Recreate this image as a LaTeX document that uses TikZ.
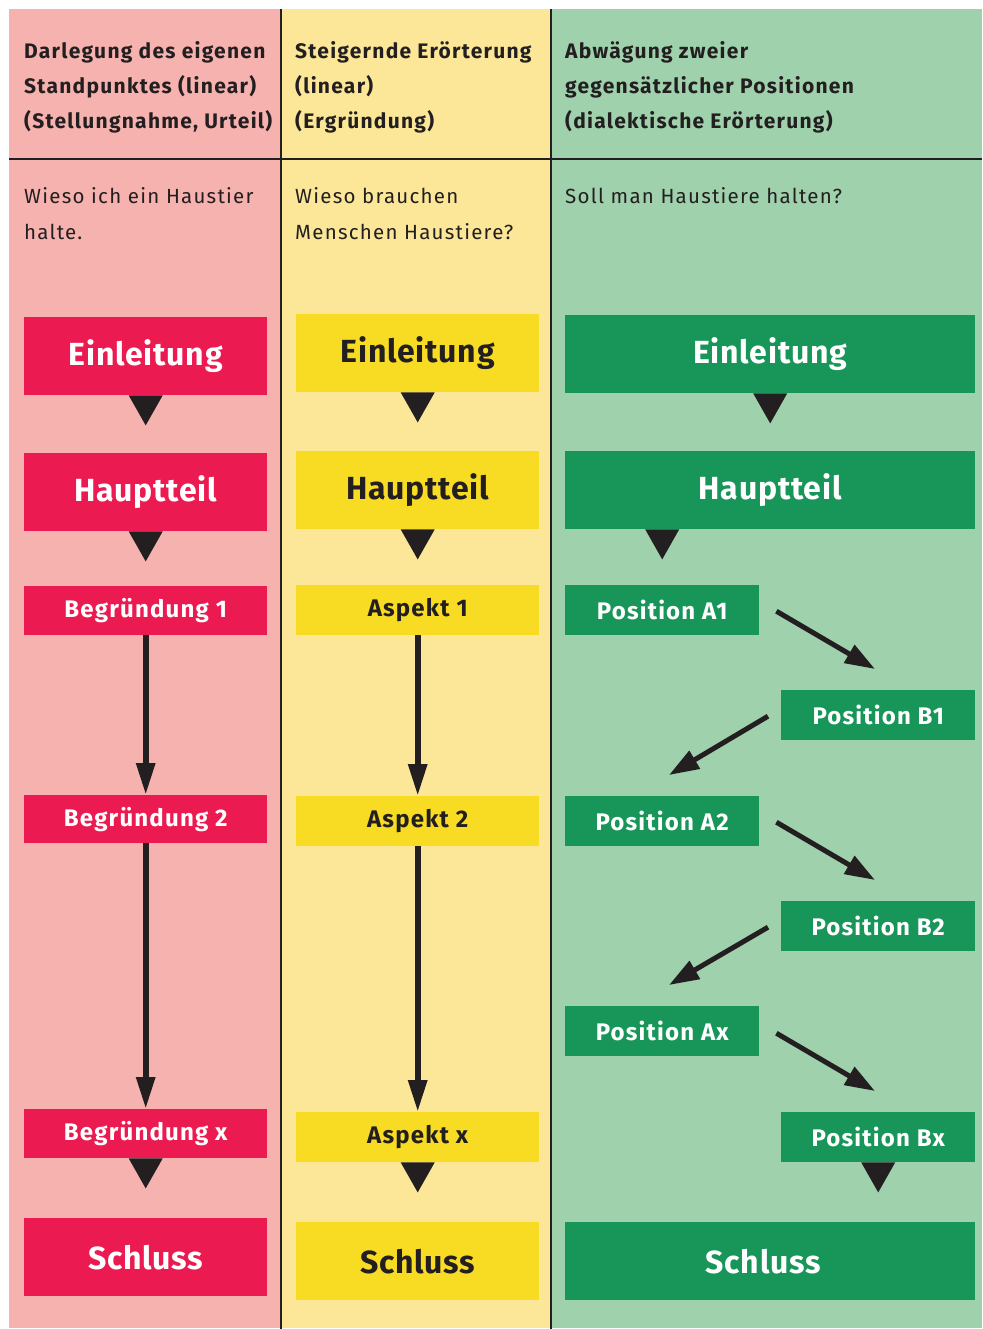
\documentclass[tikz,border=0pt]{standalone}
\usepackage{fontspec}
\setmainfont{Fira Sans}
\usetikzlibrary{arrows.meta,calc}
\definecolor{pinkbg}{HTML}{F6B2AE}
\definecolor{crim}{HTML}{EB1A50}
\definecolor{yellowbg}{HTML}{FBE797}
\definecolor{yellowbox}{HTML}{F8DC24}
\definecolor{greenbg}{HTML}{9ED1AC}
\definecolor{greenbox}{HTML}{18965A}
\definecolor{ink}{HTML}{231F20}
\tikzset{
  head/.style={anchor=north west, inner sep=0pt, align=left, text=ink,
    font=\fontsize{21}{35.3}\selectfont\bfseries\addfontfeatures{LetterSpace=6}},
  quest/.style={anchor=north west, inner sep=0pt, align=left, text=ink,
    font=\fontsize{20.5}{36}\selectfont\addfontfeatures{LetterSpace=6}},
  bigbox/.style={anchor=north west, inner sep=0pt, minimum height=78pt,
    font=\fontsize{32}{32}\selectfont\bfseries\addfontfeatures{LetterSpace=2.5}},
  smallbox/.style={anchor=north west, inner sep=0pt, minimum height=50pt,
    font=\fontsize{24}{24}\selectfont\bfseries\addfontfeatures{LetterSpace=5}},
  cA/.style={fill=crim, text=white},
  cB/.style={fill=yellowbox, text=ink},
  cC/.style={fill=greenbox, text=white},
  vline/.style={ink, line width=6pt, -{Triangle[length=32pt,width=18pt]}},
  dline/.style={ink, line width=5pt, -{Triangle[length=30pt,width=20pt]}},
  divider/.style={ink, line width=2pt},
}
\begin{document}
\begin{tikzpicture}[x=1pt,y=-1pt]
\useasboundingbox (0,0) rectangle (982,1329);
% column backgrounds
\fill[pinkbg] (9,9) rectangle (281,1328);
\fill[yellowbg] (281,9) rectangle (551,1328);
\fill[greenbg] (551,9) rectangle (982,1328);
\draw[divider, line width=2.5pt] (281,9) -- (281,1329);
\draw[divider] (551,9) -- (551,1329);
\draw[divider] (9,159) -- (982,159);

% headers
\node[head] (t1) at (24,41) {Darlegung des eigenen\\Standpunktes (linear)\\(Stellungnahme, Urteil)};
\node[head] (t2) at (295,41) {Steigernde Erörterung\\(linear)\\(Ergründung)};
\node[head] (t3) at (565,41) {Abwägung zweier\\gegensätzlicher Positionen\\(dialektische Erörterung)};

% questions
\node[quest] (q1) at (24,187) {Wieso ich ein Haustier\\halte.};
\node[quest] (q2) at (295,187) {Wieso brauchen\\Menschen Haustiere?};
\node[quest] (q3) at (565,187) {Soll man Haustiere halten?};

% column 1
\node[bigbox, cA, minimum width=243pt] (e1) at (24,317) {Einleitung};
\node[bigbox, cA, minimum width=243pt] (h1) at (24,453) {Hauptteil};
\node[smallbox, cA, minimum width=243pt, minimum height=49pt] (b1) at (24,586) {Begründung 1};
\node[smallbox, cA, minimum width=243pt, minimum height=48pt] (b2) at (24,795) {Begründung 2};
\node[smallbox, cA, minimum width=243pt, minimum height=49pt] (bx) at (24,1109) {Begründung x};
\node[bigbox, cA, minimum width=243pt] (s1) at (24,1218) {Schluss};

% column 2
\node[bigbox, cB, minimum width=243pt] (e2) at (296,314) {Einleitung};
\node[bigbox, cB, minimum width=243pt] (h2) at (296,451) {Hauptteil};
\node[smallbox, cB, minimum width=243pt] (a1) at (296,585) {Aspekt 1};
\node[smallbox, cB, minimum width=243pt] (a2) at (296,796) {Aspekt 2};
\node[smallbox, cB, minimum width=243pt] (ax) at (296,1112) {Aspekt x};
\node[bigbox, cB, minimum width=243pt] (s2) at (296,1222) {Schluss};

% column 3
\node[bigbox, cC, minimum width=410pt] (e3) at (565,315) {Einleitung};
\node[bigbox, cC, minimum width=410pt] (h3) at (565,451) {Hauptteil};
\node[smallbox, cC, minimum width=194pt] (pa1) at (565,585) {Position A1};
\node[smallbox, cC, minimum width=194pt] (pb1) at (781,690) {Position B1};
\node[smallbox, cC, minimum width=194pt] (pa2) at (565,796) {Position A2};
\node[smallbox, cC, minimum width=194pt] (pb2) at (781,901) {Position B2};
\node[smallbox, cC, minimum width=194pt] (pax) at (565,1006) {Position Ax};
\node[smallbox, cC, minimum width=194pt] (pbx) at (781,1112) {Position Bx};
\node[bigbox, cC, minimum width=410pt] (s3) at (565,1222) {\hspace*{-14pt}Schluss};

% triangular connectors
\foreach \n in {e1,h1,bx,e2,h2,ax,e3,pbx}{
  \fill[ink] ($(\n.south)+(-17,0)$) -- ($(\n.south)+(17,0)$) -- ($(\n.south)+(0,30)$) -- cycle;
}
\coordinate (h3t) at (h3.south -| pa1.south);
\fill[ink] ($(h3t)+(-17,0)$) -- ($(h3t)+(17,0)$) -- ($(h3t)+(0,30)$) -- cycle;

% vertical arrows
\draw[vline] (b1.south) -- (b2.north);
\draw[vline] (b2.south) -- (bx.north);
\draw[vline] (a1.south) -- (a2.north);
\draw[vline] (a2.south) -- (ax.north);

% diagonal arrows
\draw[dline] ($(pa1.east)+(17,1)$) -- ($(pb1.north west)+(94,-21)$);
\draw[dline] ($(pb1.west)+(-13,1)$) -- ($(pa2.north west)+(104,-21)$);
\draw[dline] ($(pa2.east)+(17,1)$) -- ($(pb2.north west)+(94,-21)$);
\draw[dline] ($(pb2.west)+(-13,1)$) -- ($(pax.north west)+(104,-21)$);
\draw[dline] ($(pax.east)+(17,2)$) -- ($(pbx.north west)+(94,-21)$);
\end{tikzpicture}
\end{document}
